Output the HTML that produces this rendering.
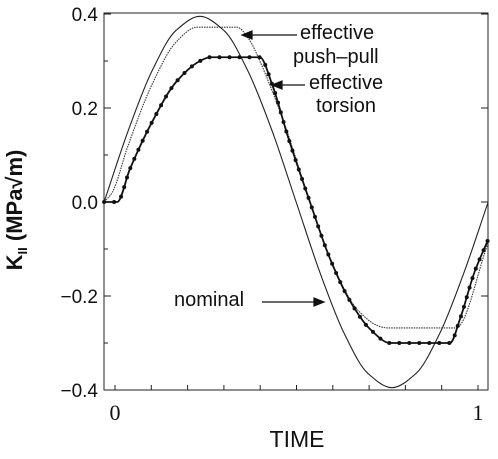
<!DOCTYPE html>
<html><head><meta charset="utf-8"><style>
body{margin:0;background:#fff}
svg{display:block;font-family:"Liberation Sans",sans-serif}
</style></head><body>
<svg id="chart" width="498" height="459" viewBox="0 0 498 459"></svg>
<script>
// data: t in time units, value in MPa√m
const nominalT = [-0.030,0.036,0.102,0.168,0.234,0.300,0.366,0.433,0.499,0.565,0.631,0.697,0.763,0.829,0.895,0.961,1.028];
const nominalV = [0,0.151,0.279,0.365,0.395,0.365,0.279,0.151,0,-0.151,-0.279,-0.365,-0.395,-0.365,-0.279,-0.151,0];
const pushT = [-0.030,-0.008,0.036,0.102,0.168,0.226,0.336,0.370,0.399,0.465,0.537,0.603,0.669,0.730,0.752,0.939,1.028];
const pushV = [0,0.02,0.12,0.25,0.34,0.372,0.372,0.345,0.30,0.17,0,-0.14,-0.23,-0.265,-0.268,-0.268,-0.087];
const torsT = [-0.030,0.006,0.041,0.102,0.168,0.234,0.262,0.399,0.433,0.476,0.537,0.592,0.647,0.702,0.758,0.923,0.950,0.990,1.028];
const torsV = [0,0,0.07,0.17,0.255,0.30,0.308,0.308,0.25,0.14,0.0,-0.12,-0.21,-0.27,-0.30,-0.30,-0.25,-0.15,-0.08];
const yTicks = [0.4,0.2,0.0,-0.2,-0.4];
const yTickLabels = ["0.4","0.2","0.0","\u22120.2","\u22120.4"];
const xTicks = [0,1];
const xTickLabels = ["0","1"];

const NS="http://www.w3.org/2000/svg";
const svg=document.getElementById('chart');
const X0=104,X1=488,Y0=13,Y1=390;
const xs=t=>115+t*363;
const ys=v=>202-v*470;
function mk(tag,attrs,parent){const e=document.createElementNS(NS,tag);for(const k in attrs)e.setAttribute(k,attrs[k]);(parent||svg).appendChild(e);return e;}
function monotone(T,V){
  const x=T.map(xs),y=V.map(ys),n=x.length;
  const d=[],m=new Array(n);
  for(let i=0;i<n-1;i++)d.push((y[i+1]-y[i])/(x[i+1]-x[i]));
  m[0]=d[0];m[n-1]=d[n-2];
  for(let i=1;i<n-1;i++){m[i]=(d[i-1]*d[i]<=0)?0:2/(1/d[i-1]+1/d[i]);}
  let p=`M${x[0]},${y[0]}`;
  for(let i=0;i<n-1;i++){const h=(x[i+1]-x[i])/3;
    p+=` C${x[i]+h},${y[i]+m[i]*h} ${x[i+1]-h},${y[i+1]-m[i+1]*h} ${x[i+1]},${y[i+1]}`;}
  return p;
}
const frame=mk('rect',{x:X0,y:Y0,width:X1-X0,height:Y1-Y0,fill:'none',stroke:'#222','stroke-width':1});


yTicks.forEach((v,i)=>{
  const t1=mk('line',{x1:X0,x2:X0+7,y1:ys(v),y2:ys(v),stroke:'#222'});
  
  
  const t2=mk('line',{x1:X1,x2:X1-7,y1:ys(v),y2:ys(v),stroke:'#222'});
  
  
  const l=mk('text',{x:X0-6,y:ys(v)+7,'text-anchor':'end','font-size':19,fill:'#111'});
  l.textContent=yTickLabels[i];
  
  
});
for(let v=-0.3;v<0.4;v+=0.2){
  const m=mk('line',{x1:X0,x2:X0+4,y1:ys(v),y2:ys(v),stroke:'#222'});
  
  
}
for(let t=0;t<=1.001;t+=0.1){
  const m=mk('line',{x1:xs(t),x2:xs(t),y1:Y1,y2:Y1-5,stroke:'#222'});
  
  
}
xTicks.forEach((t,i)=>{
  const l=mk('text',{x:xs(t),y:420,'text-anchor':'middle','font-size':22,'font-family':'Liberation Serif, serif',fill:'#111'});
  l.textContent=xTickLabels[i];
  
  
});
const nom=mk('path',{d:monotone(nominalT,nominalV),fill:'none',stroke:'#222','stroke-width':1.1});


const pp=mk('path',{d:monotone(pushT,pushV),fill:'none',stroke:'#333','stroke-width':1.1,'stroke-dasharray':'1.5 1'});


const tp=mk('path',{d:monotone(torsT,torsV),fill:'none',stroke:'#111','stroke-width':1.8});


const L=tp.getTotalLength();
for(let s=0;s<=L;s+=10){
  const pt=tp.getPointAtLength(s);
  const c=mk('circle',{cx:pt.x,cy:pt.y,r:2,fill:'#111'});
  
  
}
</script>
<svg width="498" height="459" style="position:absolute;left:0;top:0">
<g font-family="Liberation Sans, sans-serif" font-size="20" fill="#111">
<text x="22" y="210" transform="rotate(-90 22 210)" text-anchor="middle" font-size="22" font-weight="bold">K<tspan font-size="13" dy="5">II</tspan><tspan dy="-5"> (MPa√m)</tspan></text>
<text x="297" y="447" text-anchor="middle" font-size="23">TIME</text>
<text x="300" y="39">effective</text>
<text x="293" y="63">push–pull</text>
<text x="309" y="89">effective</text>
<text x="316" y="112">torsion</text>
<text x="174" y="306">nominal</text>
</g>
<g stroke="#111" stroke-width="1.2" fill="#111">
<line x1="297" y1="35" x2="250" y2="35"/>
<polygon points="242,35 252,31 252,39"/>
<line x1="305" y1="85" x2="280" y2="85"/>
<polygon points="272,85 282,81 282,89"/>
<line x1="262" y1="302" x2="315" y2="302"/>
<polygon points="324,302 314,298 314,306"/>
</g>
</svg>
</body></html>
